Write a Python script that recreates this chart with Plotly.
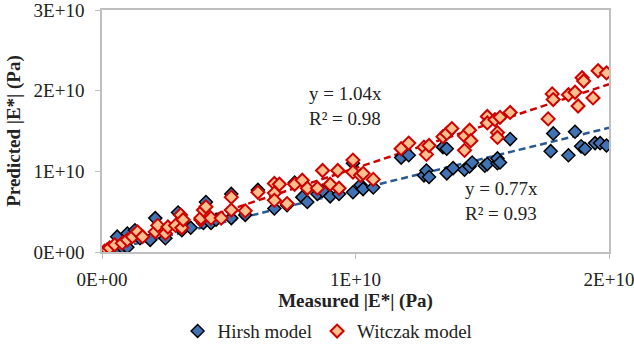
import plotly.graph_objects as go

# Data (in units of 1E+10 Pa)
hirsh_x = [0.02,0.04,0.06,0.08,0.10,0.06,0.10,0.13,0.15,0.19,0.21,0.25,0.30,0.315,0.35,0.40,0.41,0.43,0.45,0.51,0.51,0.565,0.615,0.68,0.73,0.76,0.79,0.81,0.85,0.87,0.90,0.935,0.99,0.99,1.02,1.03,1.07,1.18,1.21,1.27,1.28,1.29,1.345,1.36,1.36,1.385,1.43,1.45,1.46,1.51,1.52,1.56,1.56,1.57,1.61,1.77,1.78,1.84,1.866,1.89,1.905,1.945,1.965,1.99]
hirsh_y = [0.015,0.03,0.05,0.06,0.06,0.19,0.23,0.27,0.17,0.15,0.42,0.17,0.49,0.27,0.30,0.36,0.62,0.36,0.40,0.72,0.42,0.46,0.77,0.54,0.58,0.86,0.68,0.62,0.72,0.76,0.69,0.72,0.74,1.10,0.83,0.78,0.80,1.17,1.20,0.95,1.01,0.93,1.30,1.28,0.975,1.04,1.02,1.06,1.11,1.07,1.09,1.10,1.16,1.11,1.40,1.25,1.47,1.20,1.49,1.31,1.28,1.35,1.35,1.32]

witczak_x = [0.01,0.02,0.03,0.05,0.08,0.10,0.12,0.14,0.16,0.21,0.22,0.25,0.26,0.29,0.31,0.315,0.32,0.39,0.39,0.40,0.41,0.43,0.47,0.51,0.51,0.565,0.615,0.68,0.68,0.68,0.70,0.73,0.76,0.79,0.81,0.85,0.87,0.90,0.93,0.935,0.99,0.99,1.02,1.03,1.07,1.18,1.21,1.27,1.28,1.29,1.345,1.36,1.38,1.43,1.43,1.45,1.455,1.52,1.52,1.55,1.56,1.56,1.57,1.61,1.76,1.776,1.78,1.84,1.866,1.878,1.894,1.90,1.937,1.957,1.99]
witczak_y = [0.01,0.025,0.05,0.09,0.11,0.15,0.19,0.25,0.19,0.25,0.33,0.23,0.31,0.33,0.46,0.30,0.40,0.40,0.42,0.52,0.56,0.42,0.42,0.68,0.52,0.51,0.74,0.85,0.73,0.64,0.84,0.60,0.84,0.89,0.79,0.79,1.01,0.84,1.01,0.79,1.14,0.99,0.95,0.975,0.90,1.28,1.35,1.30,1.21,1.32,1.43,1.47,1.53,1.26,1.44,1.51,1.38,1.68,1.60,1.64,1.48,1.42,1.67,1.73,1.65,1.96,1.89,1.95,1.98,1.81,2.16,2.12,1.91,2.247,2.22]

hirsh_slope = 0.77
witczak_slope = 1.04
trend_x = [0.0, 2.0]

tick_vals_x = [0, 1, 2]
tick_text_x = ["0E+00", "1E+10", "2E+10"]
tick_vals_y = [0, 1, 2, 3]
tick_text_y = ["0E+00", "1E+10", "2E+10", "3E+10"]

E = 1e10
FONT = "Liberation Serif"
FS = 19

fig = go.Figure()

fig.add_trace(go.Scatter(
    x=[v * E for v in trend_x], y=[v * hirsh_slope * E for v in trend_x],
    mode="lines", line=dict(color="#2A5A95", width=2.5, dash="7px,4px"),
    showlegend=False, hoverinfo="skip"))
fig.add_trace(go.Scatter(
    x=[v * E for v in trend_x], y=[v * witczak_slope * E for v in trend_x],
    mode="lines", line=dict(color="#D00000", width=2.5, dash="7px,4px"),
    showlegend=False, hoverinfo="skip"))

fig.add_trace(go.Scatter(
    x=[v * E for v in hirsh_x], y=[v * E for v in hirsh_y],
    mode="markers", name="Hirsh model",
    marker=dict(symbol="diamond", size=10, color="#3F73B4",
                line=dict(color="#000000", width=1.5))))
fig.add_trace(go.Scatter(
    x=[v * E for v in witczak_x], y=[v * E for v in witczak_y],
    mode="markers", name="Witczak model",
    marker=dict(symbol="diamond", size=10, color="#FBC08E",
                line=dict(color="#D00000", width=2))))

fig.add_annotation(x=0.81 * E, y=1.815 * E, xanchor="left", yanchor="middle",
                   text="y = 1.04x<br>R² = 0.98", showarrow=False, align="left",
                   font=dict(family=FONT, size=FS, color="#222222"))
fig.add_annotation(x=1.425 * E, y=0.63 * E, xanchor="left", yanchor="middle",
                   text="y = 0.77x<br>R² = 0.93", showarrow=False, align="left",
                   font=dict(family=FONT, size=FS, color="#222222"))

fig.update_layout(
    width=634, height=345,
    margin=dict(l=102, r=25, t=10, b=93, autoexpand=False),
    paper_bgcolor="white", plot_bgcolor="white",
    font=dict(family=FONT, size=FS, color="#222222"),
    legend=dict(orientation="h", x=0.445, xanchor="center", y=0.04, yanchor="middle",
                yref="container",
                font=dict(family=FONT, size=FS, color="#222222"),
                itemwidth=30, tracegroupgap=0),
    xaxis=dict(range=[0, 2 * E], tickvals=[v * E for v in tick_vals_x], ticktext=tick_text_x,
               showgrid=False, zeroline=False, showline=True, linecolor="#BFBFBF",
               linewidth=1.5, mirror=True, ticks="outside", ticklen=5, tickcolor="#BFBFBF",
               automargin=False, tickfont=dict(family=FONT, size=FS),
               ticklabeloverflow="allow", ticklabelstandoff=4,
               title=dict(text="<b>Measured |E*| (Pa)</b>", font=dict(family=FONT, size=FS),
                          standoff=4)),
    yaxis=dict(range=[0, 3 * E], tickvals=[v * E for v in tick_vals_y], ticktext=tick_text_y,
               showgrid=False, zeroline=False, showline=True, linecolor="#BFBFBF",
               linewidth=1.5, mirror=True, ticks="outside", ticklen=5, tickcolor="#BFBFBF",
               automargin=False, tickfont=dict(family=FONT, size=FS),
               ticklabeloverflow="allow", ticklabelstandoff=7,
               title=dict(text="<b>Predicted |E*| (Pa)</b>", font=dict(family=FONT, size=FS),
                          standoff=8)),
)

fig.write_html("out.html")
